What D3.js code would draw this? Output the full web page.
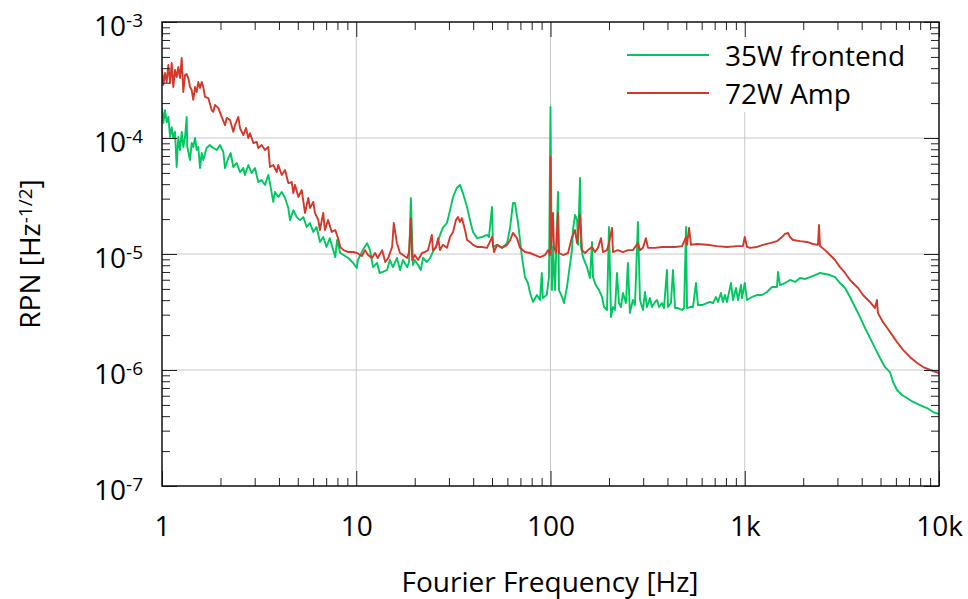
<!DOCTYPE html>
<html>
<head>
<meta charset="utf-8">
<script src="https://cdn.jsdelivr.net/npm/d3@7"></script>
<style>
  body { margin: 0; background: #ffffff; }
  svg { font-family: "Open Sans", sans-serif; }
</style>
</head>
<body>
<div id="vis"></div>
<script>
// Frame
const FRAME_WIDTH = 968;
const FRAME_HEIGHT = 599;
const MARGINS = { left: 162, right: 29, top: 22, bottom: 113 };

const VIS_WIDTH = FRAME_WIDTH - MARGINS.left - MARGINS.right;
const VIS_HEIGHT = FRAME_HEIGHT - MARGINS.top - MARGINS.bottom;

// Data: frequency [Hz] and RPN [1/sqrt(Hz)]
const FREQ_FRONTEND = [
  1.000, 1.016, 1.036, 1.057, 1.078, 1.100, 1.122, 1.143, 1.167, 1.190,
  1.213, 1.238, 1.263, 1.287, 1.314, 1.340, 1.350, 1.394, 1.422, 1.449,
  1.479, 1.509, 1.537, 1.569, 1.601, 1.632, 1.696, 1.765, 1.837, 1.913,
  1.988, 2.069, 2.111, 2.196, 2.256, 2.328, 2.424, 2.520, 2.621, 2.673,
  2.782, 2.896, 3.010, 3.131, 3.259, 3.390, 3.525, 3.595, 3.739, 3.814,
  3.969, 4.133, 4.299, 4.470, 4.560, 4.745, 4.935, 5.13, 5.34, 5.56,
  5.777, 6.008, 6.25, 6.504, 6.760, 7.03, 7.31, 7.61, 7.80, 7.96,
  8.27, 8.60, 9.10, 9.65, 10.05, 10.2, 10.8, 11.36, 11.77, 12.2,
  12.8, 13.2, 13.7, 14.4, 14.9, 15.45, 16.2, 16.8, 17.4, 18.3,
  18.7, 19.1, 19.6, 20.0, 20.8, 21.5, 22.05, 23.1, 24.0, 24.8,
  26.0, 27.0, 27.9, 29.3, 30.4, 31.5, 32.95, 34.2, 35.4, 37.2,
  38.5, 39.9, 41.9, 44.4, 47.1, 48.2, 50.0, 50.6, 53.1, 56.3,
  59.8, 62.0, 64.1, 65.6, 68.1, 71.3, 73.9, 76.5, 78.5, 81.3,
  85.1, 88.3, 90.2, 91.3, 95.6, 98.2, 100.0, 101.8, 103.0, 105.5,
  109.3, 110.6, 114.6, 117.4, 121.6, 124.5, 129.0, 130.5, 133.7, 137.0,
  138.6, 141.9, 143.6, 147.0, 154.1, 159.7, 163.6, 165.5, 169.4, 173.5,
  177.7, 184.1, 188.6, 195.4, 200.0, 204.9, 209.7, 214.7, 219.9, 225.2,
  230.6, 235.9, 244.5, 250.3, 256.3, 265.6, 272.2, 281.8, 288.9, 299.2,
  306.4, 313.8, 325.1, 333.0, 345.3, 353.6, 362.1, 374.9, 383.9, 397.6,
  402.7, 417.0, 427.1, 437.6, 453.0, 475.7, 487.2, 498.6, 504.5, 522.8,
  541.4, 561.0, 574.3, 601.9, 639.0, 662.9, 686.7, 711.0, 728.2, 754.3,
  772.3, 790.8, 809.8, 849.7, 870.0, 901.6, 923.2, 956.7, 967.9, 1000,
  1027, 1090, 1157, 1227, 1302, 1381, 1465, 1483, 1518, 1611,
  1710, 1814, 1925, 2043, 2168, 2300, 2440, 2590, 2748, 2915,
  3094, 3283, 3483, 3695, 3923, 4162, 4411, 4680, 4968, 5272,
  5593, 5801, 6081, 6448, 6841, 7357, 7993, 8680, 9330, 10000
];
const RPN_FRONTEND = [
  1.81e-4, 1.35e-4, 1.74e-4, 1.37e-4, 1.52e-4, 1.02e-4, 1.24e-4, 1.00e-4, 1.13e-4, 5.62e-5,
  1.02e-4, 7.88e-5, 1.13e-4, 8.37e-5, 1.02e-4, 1.52e-4, 8.37e-5, 6.46e-5, 9.06e-5, 8.37e-5,
  1.00e-4, 7.88e-5, 8.37e-5, 5.51e-5, 7.42e-5, 6.46e-5, 8.20e-5, 8.70e-5, 8.20e-5, 7.88e-5,
  8.70e-5, 7.57e-5, 5.51e-5, 6.72e-5, 7.42e-5, 5.62e-5, 6.09e-5, 5.09e-5, 5.51e-5, 4.80e-5,
  5.85e-5, 4.99e-5, 5.51e-5, 4.17e-5, 4.34e-5, 3.94e-5, 4.80e-5, 4.09e-5, 2.81e-5, 3.42e-5,
  3.10e-5, 3.42e-5, 3.04e-5, 2.49e-5, 1.96e-5, 2.39e-5, 2.08e-5, 1.96e-5, 2.08e-5, 1.71e-5,
  1.85e-5, 1.55e-5, 1.71e-5, 1.27e-5, 1.40e-5, 1.15e-5, 1.37e-5, 1.08e-5, 9.4e-6, 1.32e-5,
  1.02e-5, 9.8e-6, 9.24e-6, 8.37e-6, 7.57e-6, 8.88e-6, 1.08e-5, 1.24e-5, 1.08e-5, 7.7e-6,
  8.37e-6, 6.86e-6, 7.0e-6, 7.28e-6, 8.88e-6, 7.7e-6, 9.24e-6, 7.28e-6, 8.88e-6, 7.7e-6,
  8.53e-6, 3.04e-5, 8.04e-6, 8.88e-6, 8.04e-6, 7.28e-6, 9.24e-6, 8.53e-6, 9.24e-6, 1.04e-5,
  1.20e-5, 1.46e-5, 1.68e-5, 1.85e-5, 2.39e-5, 3.10e-5, 3.71e-5, 3.94e-5, 3.35e-5, 2.54e-5,
  1.96e-5, 1.55e-5, 1.37e-5, 1.40e-5, 1.46e-5, 1.40e-5, 2.54e-5, 1.15e-5, 1.20e-5, 1.13e-5,
  1.24e-5, 1.71e-5, 2.75e-5, 2.75e-5, 1.85e-5, 9.4e-6, 6.33e-6, 5.62e-6, 4.61e-6, 3.86e-6,
  4.43e-6, 4.01e-6, 6.86e-6, 4.17e-6, 4.43e-6, 6.33e-6, 1.85e-4, 4.89e-6, 1.15e-5, 4.89e-6,
  3.42e-5, 4.89e-6, 4.26e-6, 3.78e-6, 5.19e-6, 7.0e-6, 1.08e-5, 1.61e-5, 2.17e-5, 1.96e-5,
  1.20e-5, 4.52e-5, 1.15e-5, 9.4e-6, 7.7e-6, 6.21e-6, 1.27e-5, 6.33e-6, 5.62e-6, 5.19e-6,
  4.89e-6, 4.26e-6, 3.49e-6, 3.29e-6, 1.71e-5, 2.86e-6, 3.49e-6, 3.29e-6, 6.86e-6, 3.78e-6,
  3.49e-6, 4.61e-6, 3.78e-6, 8.37e-6, 3.10e-6, 4.01e-6, 3.63e-6, 1.89e-5, 4.01e-6, 3.29e-6,
  4.70e-6, 3.49e-6, 4.17e-6, 3.49e-6, 3.86e-6, 4.01e-6, 3.49e-6, 3.78e-6, 3.42e-6, 7.28e-6,
  3.49e-6, 3.78e-6, 7.28e-6, 3.42e-6, 3.42e-6, 3.29e-6, 3.42e-6, 1.71e-5, 3.42e-6, 3.49e-6,
  3.49e-6, 5.62e-6, 3.63e-6, 3.63e-6, 3.78e-6, 3.86e-6, 3.78e-6, 4.26e-6, 3.86e-6, 4.61e-6,
  3.86e-6, 4.43e-6, 3.86e-6, 5.62e-6, 4.01e-6, 5.09e-6, 4.01e-6, 5.40e-6, 4.17e-6, 5.62e-6,
  4.01e-6, 4.26e-6, 4.43e-6, 4.43e-6, 4.70e-6, 5.19e-6, 5.19e-6, 7.0e-6, 5.40e-6, 5.62e-6,
  5.97e-6, 5.74e-6, 6.21e-6, 6.09e-6, 6.33e-6, 6.59e-6, 6.86e-6, 6.72e-6, 6.59e-6, 6.33e-6,
  5.62e-6, 5.09e-6, 4.26e-6, 3.49e-6, 2.86e-6, 2.30e-6, 1.89e-6, 1.55e-6, 1.27e-6, 1.06e-6,
  9.6e-7, 7.88e-7, 6.72e-7, 6.09e-7, 5.74e-7, 5.30e-7, 4.99e-7, 4.70e-7, 4.34e-7, 4.17e-7
];

const FREQ_AMP = [
  1.000, 1.016, 1.036, 1.057, 1.078, 1.100, 1.122, 1.143, 1.167, 1.190,
  1.213, 1.238, 1.263, 1.287, 1.314, 1.340, 1.366, 1.394, 1.422, 1.449,
  1.479, 1.509, 1.537, 1.569, 1.601, 1.632, 1.665, 1.731, 1.802, 1.837,
  1.874, 1.950, 2.029, 2.111, 2.153, 2.240, 2.328, 2.375, 2.471, 2.520,
  2.621, 2.706, 2.782, 2.839, 2.954, 3.073, 3.131, 3.259, 3.390, 3.525,
  3.595, 3.739, 3.894, 3.969, 4.133, 4.299, 4.470, 4.654, 4.745, 4.840,
  5.036, 5.240, 5.447, 5.664, 5.777, 6.008, 6.127, 6.378, 6.504, 6.760,
  6.894, 7.163, 7.477, 7.800, 8.11, 8.27, 8.60, 9.10, 9.65, 10.1,
  10.7, 11.1, 11.5, 12.05, 12.5, 12.9, 13.6, 14.1, 14.6, 15.3,
  15.6, 16.2, 16.8, 17.4, 18.3, 18.7, 19.1, 19.4, 20.0, 20.8,
  21.8, 22.6, 23.4, 24.5, 24.8, 25.7, 26.4, 27.0, 27.9, 29.3,
  30.4, 31.5, 32.6, 33.4, 34.2, 35.0, 36.3, 37.2, 38.5, 39.9,
  41.9, 44.4, 47.1, 50.0, 51.2, 53.1, 56.3, 59.8, 62.0, 64.1,
  67.2, 69.7, 73.9, 78.5, 83.3, 88.3, 93.7, 97.3, 99.6, 100.0,
  100.6, 103.0, 104.2, 106.7, 109.3, 110.6, 116.0, 123.1, 129.0, 133.7,
  137.0, 141.9, 145.3, 150.5, 155.9, 163.6, 169.4, 175.6, 182.0, 186.3,
  195.4, 200.0, 207.2, 209.7, 222.3, 235.9, 250.3, 265.6, 281.8, 288.9,
  299.2, 310.0, 317.6, 345.3, 374.9, 402.7, 437.6, 475.7, 498.6, 504.5,
  516.6, 528.9, 567.6, 639.0, 719.3, 809.8, 911.7, 979.4, 1000, 1027,
  1064, 1157, 1242, 1349, 1465, 1555, 1611, 1670, 1710, 1772,
  1925, 2091, 2246, 2383, 2411, 2440, 2590, 2748, 2915, 3094,
  3283, 3483, 3695, 3829, 4062, 4411, 4680, 4791, 4847, 5144,
  5593, 6081, 6531, 7101, 7721, 8295, 9019, 10000
];
const RPN_AMP = [
  3.86e-4, 2.87e-4, 3.63e-4, 3.04e-4, 4.26e-4, 2.98e-4, 4.43e-4, 2.75e-4, 3.86e-4, 3.35e-4,
  4.09e-4, 3.29e-4, 4.89e-4, 2.49e-4, 3.49e-4, 3.56e-4, 3.29e-4, 2.75e-4, 2.59e-4, 2.13e-4,
  2.75e-4, 2.49e-4, 3.04e-4, 2.70e-4, 3.04e-4, 2.75e-4, 2.26e-4, 2.21e-4, 1.74e-4, 1.68e-4,
  1.93e-4, 1.81e-4, 1.52e-4, 1.29e-4, 1.49e-4, 1.43e-4, 1.13e-4, 1.29e-4, 1.52e-4, 1.22e-4,
  1.06e-4, 1.22e-4, 1.00e-4, 1.10e-4, 9.06e-5, 9.24e-5, 8.20e-5, 8.70e-5, 7.88e-5, 8.37e-5,
  5.62e-5, 5.85e-5, 5.09e-5, 5.85e-5, 4.80e-5, 5.30e-5, 4.09e-5, 4.17e-5, 3.35e-5, 3.94e-5,
  3.10e-5, 3.56e-5, 2.26e-5, 3.04e-5, 2.49e-5, 2.81e-5, 2.26e-5, 1.96e-5, 1.61e-5, 2.26e-5,
  1.61e-5, 1.96e-5, 1.55e-5, 1.61e-5, 1.32e-5, 1.15e-5, 1.08e-5, 1.04e-5, 1.04e-5, 1.02e-5,
  9.61e-6, 1.08e-5, 9.8e-6, 9.24e-6, 1.02e-5, 9.24e-6, 1.08e-5, 8.53e-6, 9.24e-6, 1.15e-5,
  1.85e-5, 1.24e-5, 1.02e-5, 9.8e-6, 9.24e-6, 1.04e-5, 2.04e-5, 8.88e-6, 9.8e-6, 8.88e-6,
  1.02e-5, 1.04e-5, 1.08e-5, 1.46e-5, 1.08e-5, 1.13e-5, 1.37e-5, 1.08e-5, 1.20e-5, 1.13e-5,
  1.40e-5, 1.55e-5, 1.96e-5, 2.08e-5, 1.89e-5, 2.04e-5, 1.61e-5, 1.32e-5, 1.27e-5, 1.20e-5,
  1.15e-5, 1.15e-5, 1.13e-5, 1.40e-5, 1.04e-5, 1.20e-5, 1.13e-5, 1.20e-5, 1.32e-5, 1.52e-5,
  1.37e-5, 1.13e-5, 1.04e-5, 1.02e-5, 9.8e-6, 9.4e-6, 9.8e-6, 1.08e-5, 9.8e-6, 6.86e-5,
  1.13e-5, 2.26e-5, 1.15e-5, 1.02e-5, 2.26e-5, 1.02e-5, 9.8e-6, 1.02e-5, 1.40e-5, 1.61e-5,
  1.24e-5, 2.17e-5, 1.08e-5, 1.02e-5, 1.08e-5, 1.15e-5, 1.04e-5, 1.13e-5, 1.37e-5, 1.04e-5,
  1.08e-5, 1.24e-5, 1.68e-5, 1.04e-5, 1.08e-5, 1.04e-5, 1.08e-5, 1.08e-5, 1.24e-5, 1.08e-5,
  1.13e-5, 1.37e-5, 1.13e-5, 1.13e-5, 1.15e-5, 1.15e-5, 1.15e-5, 1.17e-5, 1.40e-5, 1.20e-5,
  1.68e-5, 1.20e-5, 1.22e-5, 1.20e-5, 1.17e-5, 1.15e-5, 1.17e-5, 1.17e-5, 1.40e-5, 1.15e-5,
  1.13e-5, 1.15e-5, 1.20e-5, 1.24e-5, 1.29e-5, 1.40e-5, 1.49e-5, 1.52e-5, 1.40e-5, 1.32e-5,
  1.29e-5, 1.27e-5, 1.22e-5, 1.20e-5, 1.78e-5, 1.17e-5, 1.08e-5, 9.8e-6, 8.88e-6, 7.7e-6,
  6.86e-6, 5.97e-6, 5.40e-6, 5.09e-6, 4.43e-6, 3.86e-6, 3.42e-6, 4.01e-6, 3.10e-6, 2.59e-6,
  2.13e-6, 1.74e-6, 1.49e-6, 1.29e-6, 1.15e-6, 1.06e-6, 1.00e-6, 9.4e-7
];

const SERIES_NAMES = ["35W frontend", "72W Amp"];
const SERIES_COLORS = ["#00c760", "#d2392b"];
const X_TICK_LABELS = ["1", "10", "100", "1k", "10k"];
const Y_TICK_EXPONENTS = [-7, -6, -5, -4, -3];


// Create the frame
const FRAME = d3.select("#vis")
    .append("svg")
    .attr("width", FRAME_WIDTH)
    .attr("height", FRAME_HEIGHT)
    .attr("class", "frame");

const PLOT = FRAME.append("g")
    .attr("transform", "translate(" + MARGINS.left + "," + MARGINS.top + ")");

// Log scales for frequency and noise
const X_SCALE = d3.scaleLog()
    .domain([1, 10000])
    .range([0, VIS_WIDTH]);

const Y_SCALE = d3.scaleLog()
    .domain([1e-7, 1e-3])
    .range([VIS_HEIGHT, 0]);

// 1..9 per decade, and whether a tick is a decade
const X_TICKS = X_SCALE.ticks();
const Y_TICKS = Y_SCALE.ticks();
function isDecade(v) {
    const l = Math.log10(v);
    return Math.abs(l - Math.round(l)) < 1e-6;
}

// Grid lines at the decades
PLOT.append("g")
    .selectAll("line")
    .data(X_TICKS.filter(d => isDecade(d) && d > 1 && d < 10000))
    .enter()
    .append("line")
    .attr("x1", d => X_SCALE(d))
    .attr("x2", d => X_SCALE(d))
    .attr("y1", 0)
    .attr("y2", VIS_HEIGHT)
    .attr("stroke", "#c9c9c9")
    .attr("stroke-width", 1);

PLOT.append("g")
    .selectAll("line")
    .data(Y_TICKS.filter(d => isDecade(d) && d > 1.01e-7 && d < 0.99e-3))
    .enter()
    .append("line")
    .attr("x1", 0)
    .attr("x2", VIS_WIDTH)
    .attr("y1", d => Y_SCALE(d))
    .attr("y2", d => Y_SCALE(d))
    .attr("stroke", "#c9c9c9")
    .attr("stroke-width", 1);

// Clip the curves to the plot area
FRAME.append("defs")
    .append("clipPath")
    .attr("id", "plot-clip")
    .append("rect")
    .attr("width", VIS_WIDTH)
    .attr("height", VIS_HEIGHT);

const SERIES = [
    FREQ_FRONTEND.map((f, i) => ({ f: f, v: RPN_FRONTEND[i] })),
    FREQ_AMP.map((f, i) => ({ f: f, v: RPN_AMP[i] }))
];

const LINE = d3.line()
    .x(d => X_SCALE(d.f))
    .y(d => Y_SCALE(d.v));

// green first, red drawn over it
PLOT.append("g")
    .attr("clip-path", "url(#plot-clip)")
    .selectAll("path")
    .data(SERIES)
    .enter()
    .append("path")
    .attr("d", d => LINE(d))
    .attr("fill", "none")
    .attr("stroke", (d, i) => SERIES_COLORS[i])
    .attr("stroke-width", 1.9)
    .attr("stroke-linejoin", "round");

// White box behind the legend
PLOT.append("rect")
    .attr("x", 453)
    .attr("y", 2)
    .attr("width", 315)
    .attr("height", 88)
    .attr("fill", "#ffffff");

// Axes: ticks point inwards, decades longer
function styleTicks(g, sign, attr) {
    g.select(".domain").remove();
    g.selectAll(".tick line")
        .attr(attr, d => sign * (isDecade(d) ? 15 : 8))
        .attr("stroke", "#222")
        .attr("stroke-width", 1);
}

const X_BOTTOM = PLOT.append("g")
    .attr("transform", "translate(0," + VIS_HEIGHT + ")")
    .call(d3.axisBottom(X_SCALE)
        .tickValues(X_TICKS)
        .tickSizeInner(-8)
        .tickSizeOuter(0)
        .tickPadding(30)
        .tickFormat(d => isDecade(d) ? X_TICK_LABELS[Math.round(Math.log10(d))] : ""));
styleTicks(X_BOTTOM, -1, "y2");
X_BOTTOM.selectAll(".tick text")
    .attr("font-size", "28px")
    .attr("font-family", "Open Sans, sans-serif")
    .attr("fill", "#000");

const X_TOP = PLOT.append("g")
    .call(d3.axisTop(X_SCALE).tickValues(X_TICKS).tickSizeInner(-8).tickSizeOuter(0).tickFormat(""));
styleTicks(X_TOP, 1, "y2");

const Y_LEFT = PLOT.append("g")
    .call(d3.axisLeft(Y_SCALE)
        .tickValues(Y_TICKS)
        .tickSizeInner(-8)
        .tickSizeOuter(0)
        .tickPadding(19)
        .tickFormat(""));
styleTicks(Y_LEFT, 1, "x2");

// 10^n labels with superscript exponent
Y_LEFT.selectAll(".tick")
    .filter(d => isDecade(d))
    .select("text")
    .attr("dy", "13px")
    .attr("font-size", "28px")
    .attr("font-family", "Open Sans, sans-serif")
    .attr("fill", "#000")
    .each(function (d) {
        const exp = Y_TICK_EXPONENTS.find(e => Math.abs(Math.log10(d) - e) < 1e-6);
        const t = d3.select(this).text("10");
        t.append("tspan")
            .attr("dy", "-9px")
            .attr("font-size", "19px")
            .text(String(exp));
    });

const Y_RIGHT = PLOT.append("g")
    .attr("transform", "translate(" + VIS_WIDTH + ",0)")
    .call(d3.axisRight(Y_SCALE).tickValues(Y_TICKS).tickSizeInner(-8).tickSizeOuter(0).tickFormat(""));
styleTicks(Y_RIGHT, -1, "x2");

// Plot frame
PLOT.append("rect")
    .attr("width", VIS_WIDTH)
    .attr("height", VIS_HEIGHT)
    .attr("fill", "none")
    .attr("stroke", "#111")
    .attr("stroke-width", 1.5);

// Legend
const LEGEND = PLOT.append("g")
    .selectAll("g")
    .data(SERIES_NAMES)
    .enter()
    .append("g")
    .attr("transform", (d, i) => "translate(465," + (33 + i * 38) + ")");

LEGEND.append("line")
    .attr("x1", 0)
    .attr("x2", 82)
    .attr("stroke", (d, i) => SERIES_COLORS[i])
    .attr("stroke-width", 1.9);

LEGEND.append("text")
    .attr("x", 98)
    .attr("y", 11)
    .attr("font-size", "28px")
    .attr("fill", "#000")
    .text(d => d);

// Axis titles
FRAME.append("text")
    .attr("x", 550)
    .attr("y", 592)
    .attr("text-anchor", "middle")
    .attr("font-size", "28px")
    .attr("fill", "#000")
    .text("Fourier Frequency [Hz]");

const Y_TITLE = FRAME.append("text")
    .attr("transform", "translate(40,254) rotate(-90)")
    .attr("text-anchor", "middle")
    .attr("font-size", "28px")
    .attr("fill", "#000");
Y_TITLE.append("tspan").text("RPN [Hz");
Y_TITLE.append("tspan").attr("dy", "-8px").attr("font-size", "19px").text("-1/2");
Y_TITLE.append("tspan").attr("dy", "8px").text("]");
</script>
</body>
</html>
